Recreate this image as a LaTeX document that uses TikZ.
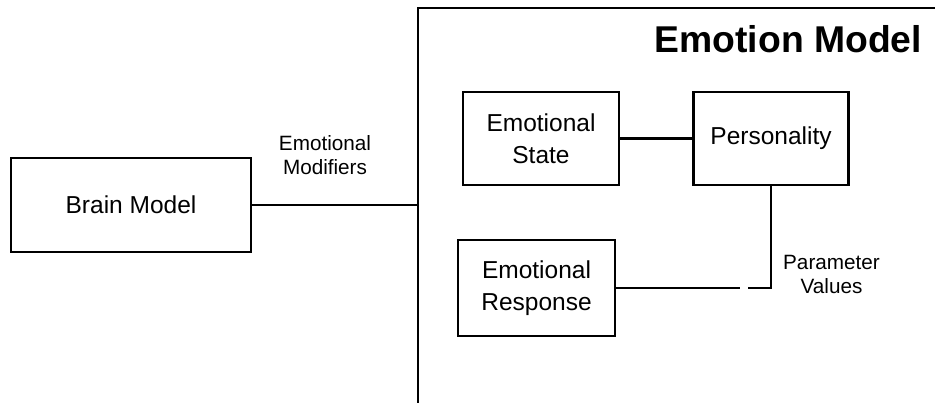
\documentclass[tikz,border=0pt]{standalone}
\usepackage{fontspec}
\setmainfont{Liberation Sans}
\begin{document}
\begin{tikzpicture}[x=1pt,y=-1pt,
  line width=2.1pt,
  blockbox/.style={draw, line width=2.1pt, inner sep=0pt, align=center,
    font=\fontsize{24.5}{32}\selectfont},
  linklabel/.style={inner sep=0pt, align=center,
    font=\fontsize{20.7}{24.5}\selectfont},
  title/.style={inner sep=0pt, font=\fontsize{37.3}{44}\selectfont\bfseries}]
  \useasboundingbox[fill=white] (0,0) rectangle (935,402);
  \clip (0,0) rectangle (935,402);

  % Emotion Model frame, open to the right and below
  \coordinate (frameBL) at (418,410);
  \coordinate (frameTL) at (418,8);
  \coordinate (frameTR) at (945,8);
  \draw (frameBL) -- (frameTL) -- (frameTR);
  \node[title, anchor=base east] (emtitle) at (923,52) {Emotion Model};

  % Brain model and its link into the frame
  \node[blockbox, minimum width=240pt, minimum height=94pt] (brain) at (131,205) {Brain Model};
  \coordinate (entry) at (418,205);
  \draw (brain.east) -- (entry);
  \node[linklabel, anchor=south] (modlabel) at (325,176) {Emotional\\Modifiers};

  % Components inside the emotion model
  \node[blockbox, minimum width=156pt, minimum height=93pt] (state) at (541,138.5) {Emotional\\State};
  \node[blockbox, minimum width=155pt, minimum height=93pt] (pers) at (771,138.5) {Personality};
  \node[blockbox, minimum width=157pt, minimum height=96pt] (resp) at (536.5,288) {Emotional\\Response};

  \draw (state.east) -- (pers.west);

  % Parameter values link, with a small break near the corner
  \coordinate (gapR) at (748,288);
  \coordinate (gapL) at (740,288);
  \draw (pers.south) |- (gapR);
  \draw (resp.east) -- (gapL);
  \node[linklabel, anchor=south] (pvlabel) at (831.5,295) {Parameter\\Values};
\end{tikzpicture}
\end{document}
